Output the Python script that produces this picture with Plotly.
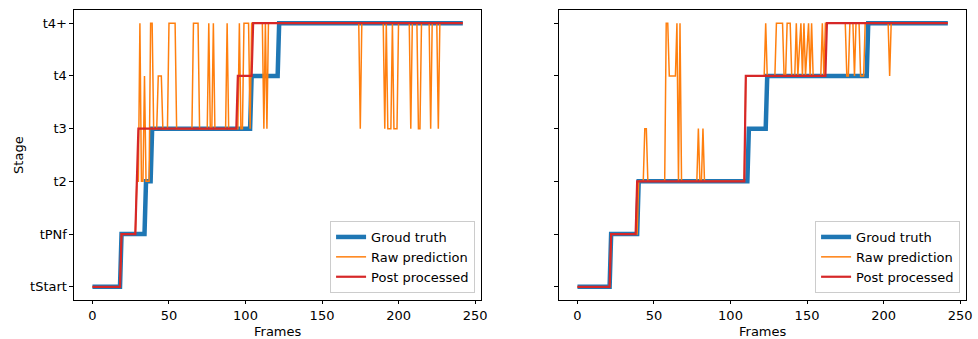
import plotly.graph_objects as go

STAGES = ["tStart", "tPNf", "t2", "t3", "t4", "t4+"]
X_TICKS = [0, 50, 100, 150, 200, 250]

# ---- Left panel (vertices of the polylines: frame, stage index) ----
L_GT_F = [0, 18, 19, 34, 35, 38, 39, 103, 104, 121, 122, 242]
L_GT_S = [0, 0, 1, 1, 2, 2, 3, 3, 4, 4, 5, 5]

L_RAW_F = [0, 18, 19, 28, 29, 30, 31, 32, 33, 34, 35, 37, 38, 39, 40, 42, 43, 45, 46, 49,
           50, 54, 55, 65, 66, 69, 70, 75, 76, 77, 78, 79, 80, 87, 88, 89, 95, 96, 97, 98,
           99, 102, 103, 104, 111, 112, 113, 114, 115, 174, 175, 176, 190, 191, 192, 193, 195, 196,
           197, 199, 200, 207, 208, 209, 212, 213, 214, 215, 220, 221, 222, 225, 226, 227, 242]
L_RAW_S = [0, 0, 1, 1, 2, 2, 5, 2, 2, 4, 2, 2, 5, 5, 3, 3, 4, 4, 3, 3,
           5, 5, 3, 3, 5, 5, 3, 3, 5, 3, 3, 5, 3, 3, 5, 3, 3, 5, 3, 3,
           5, 5, 3, 5, 5, 3, 5, 3, 5, 5, 3, 5, 5, 3, 5, 3, 3, 5,
           3, 3, 5, 5, 3, 5, 5, 3, 3, 5, 5, 3, 5, 5, 3, 5, 5]

L_PP_F = [0, 18, 19, 28, 29, 30, 94, 95, 104, 105, 242]
L_PP_S = [0, 0, 1, 1, 2, 3, 3, 4, 4, 5, 5]

# ---- Right panel ----
R_GT_F = [0, 21, 22, 39, 40, 111, 112, 123, 124, 189, 190, 242]
R_GT_S = [0, 0, 1, 1, 2, 2, 3, 3, 4, 4, 5, 5]

R_RAW_F = [0, 21, 22, 39, 40, 43, 44, 45, 46, 57, 58, 59, 60, 64, 65, 66, 67, 68, 78, 79,
           80, 81, 82, 83, 109, 110, 122, 123, 124, 129, 130, 134, 135, 136, 137, 139, 140, 142, 143, 144,
           146, 147, 148, 149, 151, 152, 153, 154, 159, 160, 161, 162, 175, 176, 177, 178, 180, 181, 182, 184,
           185, 187, 188, 203, 204, 205, 242]
R_RAW_S = [0, 0, 1, 1, 2, 2, 3, 3, 2, 2, 5, 5, 4, 4, 5, 2, 5, 2, 2, 3,
           2, 2, 3, 2, 2, 4, 4, 5, 4, 4, 5, 5, 4, 4, 5, 5, 4, 4, 5, 4,
           5, 4, 5, 4, 5, 4, 5, 4, 4, 5, 4, 5, 5, 4, 4, 5, 5, 4, 5, 5,
           4, 4, 5, 5, 4, 5, 5]

R_PP_F = [0, 21, 22, 38, 39, 109, 110, 162, 163, 242]
R_PP_S = [0, 0, 1, 1, 2, 2, 4, 4, 5, 5]

NAMES = ["Groud truth", "Raw prediction", "Post processed"]
COLORS = ["#1f77b4", "#ff7f0e", "#d62728"]
WIDTHS = [4.5, 1.5, 2.2]

FONT = "DejaVu Sans"
FS = 13
W, H = 978, 339

fig = go.Figure()

panels = [
    ("x", "y", "legend", [(L_GT_F, L_GT_S), (L_RAW_F, L_RAW_S), (L_PP_F, L_PP_S)]),
    ("x2", "y2", "legend2", [(R_GT_F, R_GT_S), (R_RAW_F, R_RAW_S), (R_PP_F, R_PP_S)]),
]
for xa, ya, lg, series in panels:
    for (f, s), name, col, wd in zip(series, NAMES, COLORS, WIDTHS):
        fig.add_trace(go.Scatter(
            x=f, y=[STAGES[i] for i in s], mode="lines", name=name,
            line=dict(color=col, width=wd), xaxis=xa, yaxis=ya, legend=lg,
        ))

top_px, bot_px = 10, 300
ydom = [1 - bot_px / H, 1 - top_px / H]
lx = [74.4 / W, 484.3 / W]
rx = [562.4 / W, 972.3 / W]

axis_common = dict(
    showgrid=False, zeroline=False, showline=True, linecolor="black", linewidth=0.9,
    mirror=True, ticks="outside", ticklen=3.5, tickwidth=0.9, tickcolor="black",
    tickfont=dict(family=FONT, size=FS, color="black"),
)
xr = [-12.1, 254.1]
yr = [-0.25, 5.25]

leg_common = dict(xanchor="right", yanchor="bottom",
                  bgcolor="rgba(255,255,255,0.85)", bordercolor="#cccccc", borderwidth=1,
                  font=dict(family=FONT, size=FS), tracegroupgap=0, itemwidth=30)

fig.update_layout(
    width=W, height=H,
    margin=dict(l=0, r=0, t=0, b=0),
    paper_bgcolor="white", plot_bgcolor="white",
    font=dict(family=FONT, size=FS, color="black"),
    xaxis=dict(domain=lx, range=xr, tickvals=X_TICKS, anchor="y", **axis_common),
    yaxis=dict(domain=ydom, range=yr, type="category", categoryorder="array",
               categoryarray=STAGES, anchor="x", **axis_common),
    xaxis2=dict(domain=rx, range=xr, tickvals=X_TICKS, anchor="y2", **axis_common),
    yaxis2=dict(domain=ydom, range=yr, type="category", categoryorder="array",
                categoryarray=STAGES, anchor="x2", showticklabels=False, **axis_common),
    legend=dict(x=478 / W, y=1 - 293 / H, **leg_common),
    legend2=dict(x=966 / W, y=1 - 293 / H, **leg_common),
    showlegend=True,
    annotations=[
        dict(text="Frames", x=(lx[0] + lx[1]) / 2, y=1 - 331 / H, xref="paper", yref="paper",
             xanchor="center", yanchor="middle", showarrow=False, font=dict(family=FONT, size=FS)),
        dict(text="Frames", x=(rx[0] + rx[1]) / 2, y=1 - 331 / H, xref="paper", yref="paper",
             xanchor="center", yanchor="middle", showarrow=False, font=dict(family=FONT, size=FS)),
        dict(text="Stage", x=18 / W, y=(ydom[0] + ydom[1]) / 2, xref="paper", yref="paper",
             xanchor="center", yanchor="middle", showarrow=False, textangle=-90,
             font=dict(family=FONT, size=FS)),
    ],
)

fig.write_html("out.html", config={"displayModeBar": False},
               post_script="document.body.style.margin='0';")
